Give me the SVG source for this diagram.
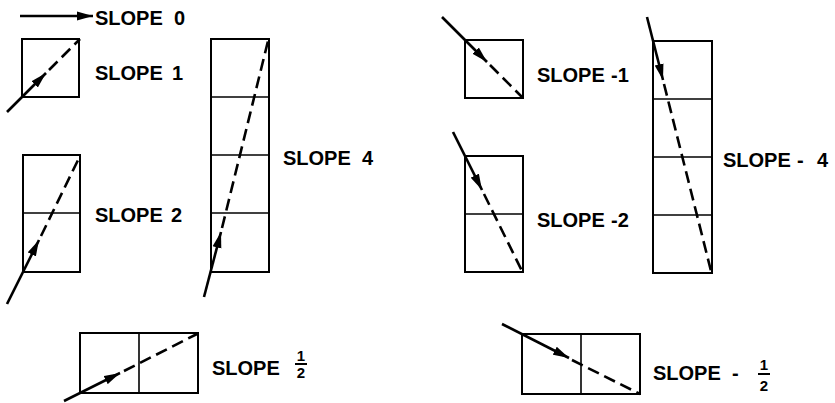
<svg xmlns="http://www.w3.org/2000/svg" width="835" height="403" viewBox="0 0 835 403">
<style>
.box{fill:none;stroke:#000;stroke-width:2}
.div{stroke:#000;stroke-width:1.6}
.sol{stroke:#000;stroke-width:2.6;fill:none;marker-end:url(#ah)}
.dsh{stroke:#000;stroke-width:2.6;fill:none;stroke-dasharray:12 6}
.lbl{font-family:"Liberation Sans",Arial,sans-serif;font-weight:bold;font-size:20px;fill:#000}
.frac{font-family:"Liberation Sans",Arial,sans-serif;font-weight:bold;font-size:15px;fill:#000;text-anchor:middle}
.bar{stroke:#000;stroke-width:2}
</style>
<defs>
<marker id="ah" markerUnits="userSpaceOnUse" markerWidth="17" markerHeight="10" refX="16" refY="5" orient="auto">
<path d="M0,0.5 L16,5 L0,9.5 z" fill="#000"/>
</marker>
</defs>
<rect width="835" height="403" fill="#fff"/>

<g id="slope0">
<line class="sol" x1="20" y1="16" x2="93" y2="16"/>
<text class="lbl" x="95" y="25">SLOPE</text>
<text class="lbl" x="174" y="25">0</text>
</g>

<g id="slope1">
<rect class="box" x="22" y="39" width="57" height="58"/>
<text class="lbl" x="95" y="80">SLOPE</text>
<text class="lbl" x="172" y="80">1</text>
</g>

<g id="slope2">
<rect class="box" x="23" y="155" width="57" height="117"/>
<line class="div" x1="23" y1="213" x2="80" y2="213"/>
<text class="lbl" x="95" y="222">SLOPE</text>
<text class="lbl" x="171" y="222">2</text>
</g>

<g id="slope4">
<rect class="box" x="211" y="39" width="58" height="233"/>
<line class="div" x1="211" y1="97" x2="269" y2="97"/>
<line class="div" x1="211" y1="155" x2="269" y2="155"/>
<line class="div" x1="211" y1="213" x2="269" y2="213"/>
<text class="lbl" x="283" y="165">SLOPE</text>
<text class="lbl" x="362" y="165">4</text>
</g>

<g id="slopeHalf">
<rect class="box" x="80" y="333" width="118" height="60"/>
<line class="div" x1="139" y1="333" x2="139" y2="393"/>
<text class="lbl" x="212" y="375">SLOPE</text>
<text class="frac" x="301" y="361">1</text>
<line class="bar" x1="295" y1="364" x2="307" y2="364"/>
<text class="frac" x="301" y="378">2</text>
</g>

<g id="slopeM1">
<rect class="box" x="465" y="40" width="58" height="58"/>
<text class="lbl" x="537" y="82">SLOPE</text>
<text class="lbl" x="611" y="82">-1</text>
</g>

<g id="slopeM2">
<rect class="box" x="465" y="156" width="58" height="116"/>
<line class="div" x1="465" y1="214" x2="523" y2="214"/>
<text class="lbl" x="537" y="227">SLOPE</text>
<text class="lbl" x="611" y="227">-2</text>
</g>

<g id="slopeM4">
<rect class="box" x="653" y="41" width="59" height="232"/>
<line class="div" x1="653" y1="99" x2="712" y2="99"/>
<line class="div" x1="653" y1="157" x2="712" y2="157"/>
<line class="div" x1="653" y1="215" x2="712" y2="215"/>
<text class="lbl" x="723" y="167">SLOPE</text>
<text class="lbl" x="797" y="167">-</text>
<text class="lbl" x="817" y="167">4</text>
</g>

<g id="slopeMHalf">
<rect class="box" x="522" y="334" width="118" height="60"/>
<line class="div" x1="581" y1="334" x2="581" y2="394"/>
<text class="lbl" x="653" y="380">SLOPE</text>
<text class="lbl" x="732" y="380">-</text>
<text class="frac" x="764" y="370">1</text>
<line class="bar" x1="758" y1="374" x2="770" y2="374"/>
<text class="frac" x="764" y="391">2</text>
</g>

<g id="connectors">
<line class="sol" x1="7" y1="112" x2="46" y2="73"/>
<line class="dsh" x1="49" y1="70" x2="80" y2="39"/>
<line class="sol" x1="7" y1="304" x2="39" y2="240"/>
<line class="dsh" x1="41" y1="236" x2="80" y2="156"/>
<line class="sol" x1="204" y1="297" x2="221" y2="232"/>
<line class="dsh" x1="222" y1="228" x2="268" y2="41"/>
<line class="sol" x1="64" y1="401" x2="120" y2="373"/>
<line class="dsh" x1="124" y1="371" x2="197" y2="334"/>
<line class="sol" x1="442" y1="17" x2="487" y2="62"/>
<line class="dsh" x1="490" y1="65" x2="523" y2="98"/>
<line class="sol" x1="453" y1="132" x2="482" y2="190"/>
<line class="dsh" x1="484" y1="194" x2="522" y2="271"/>
<line class="sol" x1="647" y1="17" x2="663" y2="80"/>
<line class="dsh" x1="664" y1="84" x2="711" y2="271"/>
<line class="sol" x1="502" y1="324" x2="569" y2="358"/>
<line class="dsh" x1="572" y1="360" x2="640" y2="394"/>
</g>
</svg>
